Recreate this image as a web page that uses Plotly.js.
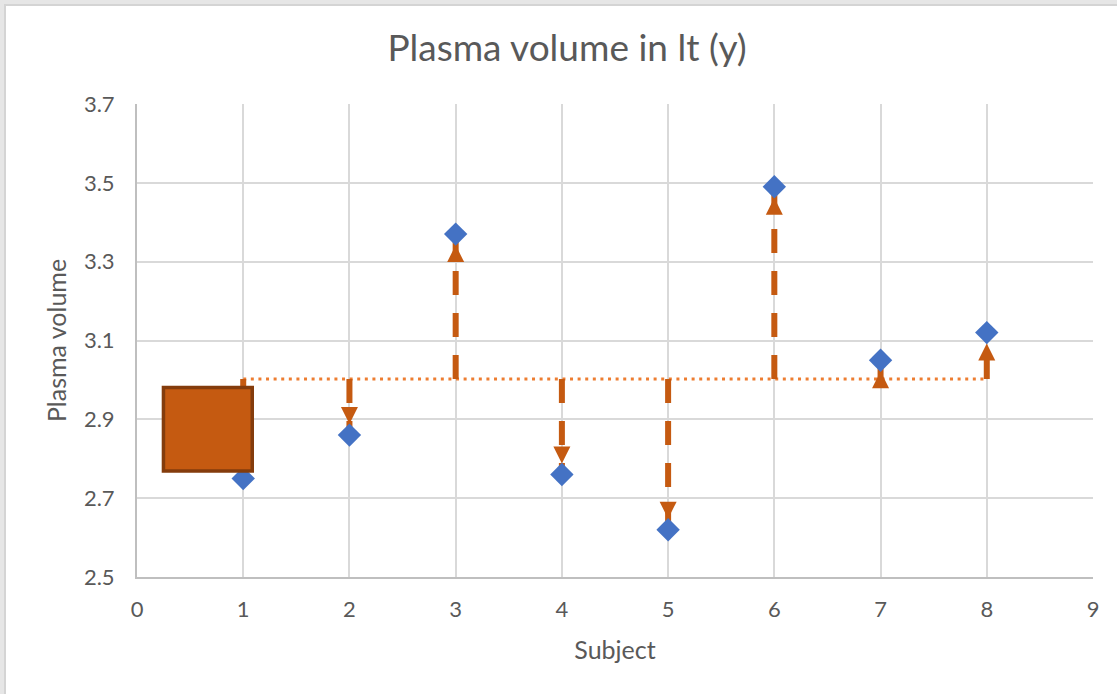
<!DOCTYPE html>
<html><head><meta charset="utf-8">
<script src="https://cdn.plot.ly/plotly-3.0.1.min.js"></script>
<style>
html,body{margin:0;padding:0;background:#e6e6e6;overflow:hidden;}
#frame{position:absolute;left:4px;top:4px;width:1113px;height:690px;background:#fff;border-left:2px solid #d4d4d4;border-top:2px solid #d4d4d4;box-sizing:border-box;}
#chart{position:absolute;left:0;top:0;width:1117px;height:694px;}
</style></head><body>
<div id="frame"></div>
<div id="chart"></div>
<script>
// ---- data ----
const subjects = [1, 2, 3, 4, 5, 6, 7, 8];
const plasmaVolume = [2.75, 2.86, 3.37, 2.76, 2.62, 3.49, 3.05, 3.12];
const meanVolume = plasmaVolume.reduce((a, b) => a + b, 0) / plasmaVolume.length;
const xTicks = [0, 1, 2, 3, 4, 5, 6, 7, 8, 9];
const yTicks = [2.5, 2.7, 2.9, 3.1, 3.3, 3.5, 3.7];

const C_DIAMOND = '#4472C4';
const C_DEV = '#C55A11';
const C_MEAN = '#ED7D31';
const C_TEXT = '#595959';

const traces = [];
// mean line (dotted)
traces.push({
  x: [subjects[0], subjects[subjects.length - 1]],
  y: [meanVolume, meanVolume],
  mode: 'lines',
  line: {color: C_MEAN, width: 3, dash: '3px,4.6px'},
  hoverinfo: 'skip'
});
// deviation dashed lines
subjects.forEach((s, i) => {
  traces.push({
    x: [s, s],
    y: [meanVolume, plasmaVolume[i]],
    mode: 'lines',
    line: {color: C_DEV, width: 6, dash: '24px,18px'},
    hoverinfo: 'skip'
  });
});
// arrow heads
traces.push({
  x: subjects,
  y: plasmaVolume,
  mode: 'markers',
  marker: {
    symbol: 'arrow-up',
    size: 17,
    color: C_DEV,
    angle: plasmaVolume.map(v => v >= meanVolume ? 0 : 180),
    standoff: 11,
    line: {width: 0}
  },
  hoverinfo: 'skip'
});
// data points
traces.push({
  x: subjects,
  y: plasmaVolume,
  mode: 'markers',
  marker: {symbol: 'diamond', size: 18, color: C_DIAMOND, line: {width: 0}}
});

const layout = {
  width: 1117, height: 694,
  margin: {l: 137, r: 24, t: 104, b: 117},
  paper_bgcolor: 'rgba(0,0,0,0)',
  plot_bgcolor: 'rgba(0,0,0,0)',
  showlegend: false,
  font: {family: 'Lato, "Open Sans", sans-serif', color: C_TEXT},
  title: {
    text: 'Plasma volume in lt (y)',
    font: {size: 37, color: C_TEXT},
    xref: 'container', x: 0.5076,
    yref: 'container', y: 1 - 48 / 694, yanchor: 'middle', xanchor: 'center'
  },
  xaxis: {
    range: [0, 9], tickvals: xTicks, ticktext: xTicks.map(String),
    showgrid: true, gridcolor: '#D9D9D9', gridwidth: 2,
    zeroline: false, showline: true, linecolor: '#BFBFBF', linewidth: 2,
    ticks: 'outside', ticklen: 12, tickcolor: 'rgba(0,0,0,0)',
    tickfont: {size: 22, color: C_TEXT},
    title: {text: 'Subject', font: {size: 25, color: C_TEXT}, standoff: 20},
    fixedrange: true
  },
  yaxis: {
    range: [2.5, 3.7], tickvals: yTicks, ticktext: yTicks.map(v => v.toFixed(1)),
    showgrid: true, gridcolor: '#D9D9D9', gridwidth: 2,
    zeroline: false, showline: true, linecolor: '#BFBFBF', linewidth: 2,
    ticks: 'outside', ticklen: 16, tickcolor: 'rgba(0,0,0,0)',
    tickfont: {size: 22, color: C_TEXT},
    title: {text: 'Plasma volume', font: {size: 25, color: C_TEXT}, standoff: 10},
    fixedrange: true
  },
  shapes: [{
    type: 'rect', layer: 'above', xref: 'x', yref: 'y',
    x0: 0.249, x1: 1.085, y0: 2.769, y1: 2.981,
    fillcolor: C_DEV, line: {color: '#843C0C', width: 3.5}
  }]
};

Plotly.newPlot('chart', traces, layout, {displayModeBar: false, staticPlot: true});
</script>
</body></html>
